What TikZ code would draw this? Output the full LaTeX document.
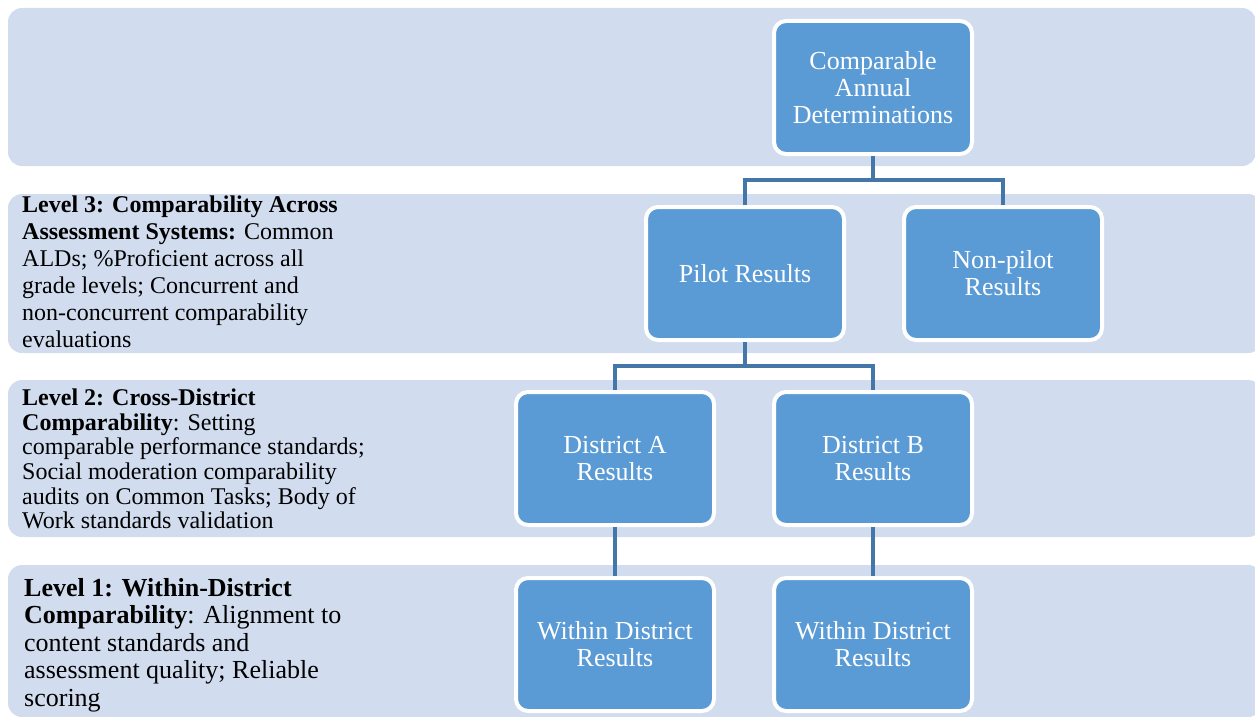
\documentclass[tikz,border=0pt]{standalone}
\usepackage{fontspec}
\setmainfont{Liberation Serif}
\definecolor{bandc}{HTML}{D1DCEE}
\definecolor{nodec}{HTML}{5B9BD5}
\definecolor{connc}{HTML}{4576A8}
\begin{document}
\begin{tikzpicture}[x=1pt,y=-1pt,
  band/.style={fill=bandc, draw=none, rounded corners=14pt},
  box/.style={draw=white, line width=4pt, fill=nodec, rounded corners=12pt,
    minimum width=198pt, minimum height=133pt, inner sep=0pt, align=center,
    text=white, font=\fontsize{26}{27}\selectfont},
  conn/.style={draw=connc, line width=3.2pt},
  lvl/.style={anchor=north west, inner sep=0pt, align=left, text=black}]
\useasboundingbox (0,0) rectangle (1255,717);
\clip (0,0) rectangle (1255,717);
% bands
\path[band] (8,8) rectangle (1256,166);
\path[band] (8,194) rectangle (1262,353);
\path[band] (8,380) rectangle (1262,537);
\path[band] (8,565) rectangle (1262,717);
% level texts
\node[lvl, font=\fontsize{24}{27}\selectfont] (l3) at (22,195.5)
 {\textbf{Level 3: Comparability Across}\\
  \textbf{Assessment Systems:} Common\\
  ALDs; \%Proficient across all\\
  grade levels; Concurrent and\\
  non-concurrent comparability\\
  evaluations};
\node[lvl, font=\fontsize{24}{24.7}\selectfont] (l2) at (22,388.5)
 {\textbf{Level 2: Cross-District}\\
  \textbf{Comparability}: Setting\\
  comparable performance standards;\\
  Social moderation comparability\\
  audits on Common Tasks; Body of\\
  Work standards validation};
\node[lvl, font=\fontsize{26}{27.5}\selectfont] (l1) at (24,578)
 {\textbf{Level 1: Within-District}\\
  \textbf{Comparability}: Alignment to\\
  content standards and\\
  assessment quality; Reliable\\
  scoring};
% nodes
\node[box] (cad) at (873,87.5) {Comparable\\Annual\\Determinations};
\node[box] (pilot) at (745,273.5) {Pilot Results};
\node[box] (nonpilot) at (1003,273.5) {Non-pilot\\Results};
\node[box] (da) at (615,458.5) {District A\\Results};
\node[box] (db) at (873,458.5) {District B\\Results};
\node[box] (wa) at (615,644.5) {Within District\\Results};
\node[box] (wb) at (873,644.5) {Within District\\Results};
% connectors
\coordinate (j1) at (873,180);
\coordinate (j2) at (745,366);
\draw[conn] (cad.south) -- (j1);
\draw[conn] (pilot.north) |- (j1) -| (nonpilot.north);
\draw[conn] (pilot.south) -- (j2);
\draw[conn] (da.north) |- (j2) -| (db.north);
\draw[conn] (da.south) -- (wa.north);
\draw[conn] (db.south) -- (wb.north);
\end{tikzpicture}
\end{document}
